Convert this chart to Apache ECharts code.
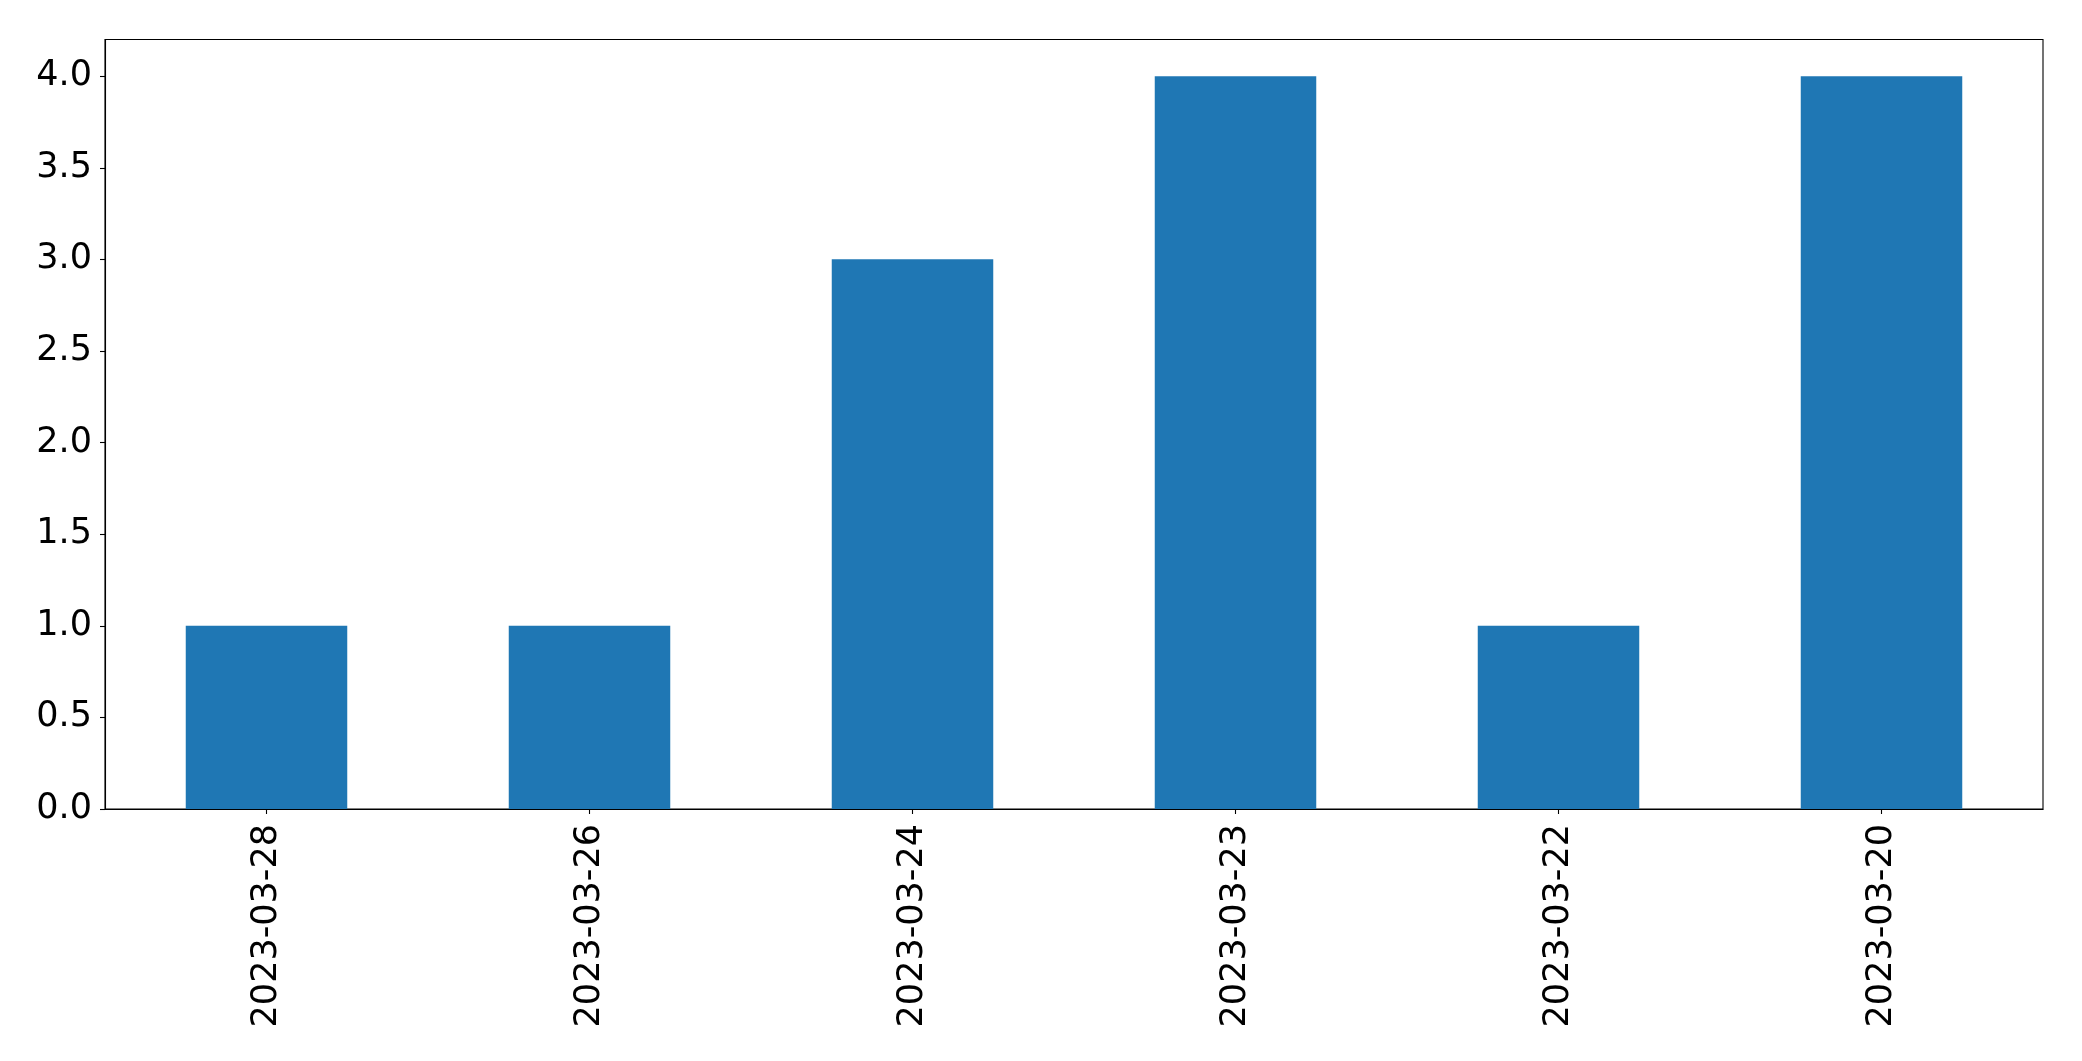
<!DOCTYPE html>
<html>
<head>
<meta charset="utf-8">
<script src="https://cdn.jsdelivr.net/npm/echarts@6/dist/echarts.min.js"></script>
<style>html,body{margin:0;padding:0;background:#fff;}#c{width:2082px;height:1061px;}</style>
</head>
<body>
<div id="c"></div>
<script>
const categories = ['2023-03-28', '2023-03-26', '2023-03-24', '2023-03-23', '2023-03-22', '2023-03-20'];
const values = [1, 1, 3, 4, 1, 4];
const yTickValues = [0, 0.5, 1, 1.5, 2, 2.5, 3, 3.5, 4];
const yRange = { min: 0, max: 4.2 };

const chart = echarts.init(document.getElementById('c'), null, { renderer: 'canvas' });
const font = 'DejaVu Sans';
chart.setOption({
  animation: false,
  backgroundColor: '#ffffff',
  grid: {
    left: 105, top: 39.5, width: 1938, height: 769.5,
    show: true, borderColor: '#000', borderWidth: 1.1, backgroundColor: 'transparent'
  },
  xAxis: {
    type: 'category',
    data: categories,
    boundaryGap: true,
    axisLine: { show: true, lineStyle: { color: '#000', width: 1.1 } },
    axisTick: { show: true, alignWithLabel: true, length: 5, lineStyle: { color: '#000', width: 1.1 } },
    axisLabel: { rotate: 90, margin: 15, fontFamily: font, fontSize: 35, color: '#000', interval: 0 },
    splitLine: { show: false }
  },
  yAxis: {
    type: 'value',
    min: yRange.min, max: yRange.max,
    axisLine: { show: true, lineStyle: { color: '#000', width: 1.1 } },
    axisTick: { show: true, length: 5, customValues: yTickValues, lineStyle: { color: '#000', width: 1.1 } },
    axisLabel: {
      margin: 13, fontFamily: font, fontSize: 35, color: '#000',
      customValues: yTickValues,
      formatter: v => v.toFixed(1)
    },
    splitLine: { show: false }
  },
  series: [{
    type: 'bar',
    data: values,
    barWidth: '50%',
    itemStyle: { color: '#1f77b4' }
  }]
});
</script>
</body>
</html>
